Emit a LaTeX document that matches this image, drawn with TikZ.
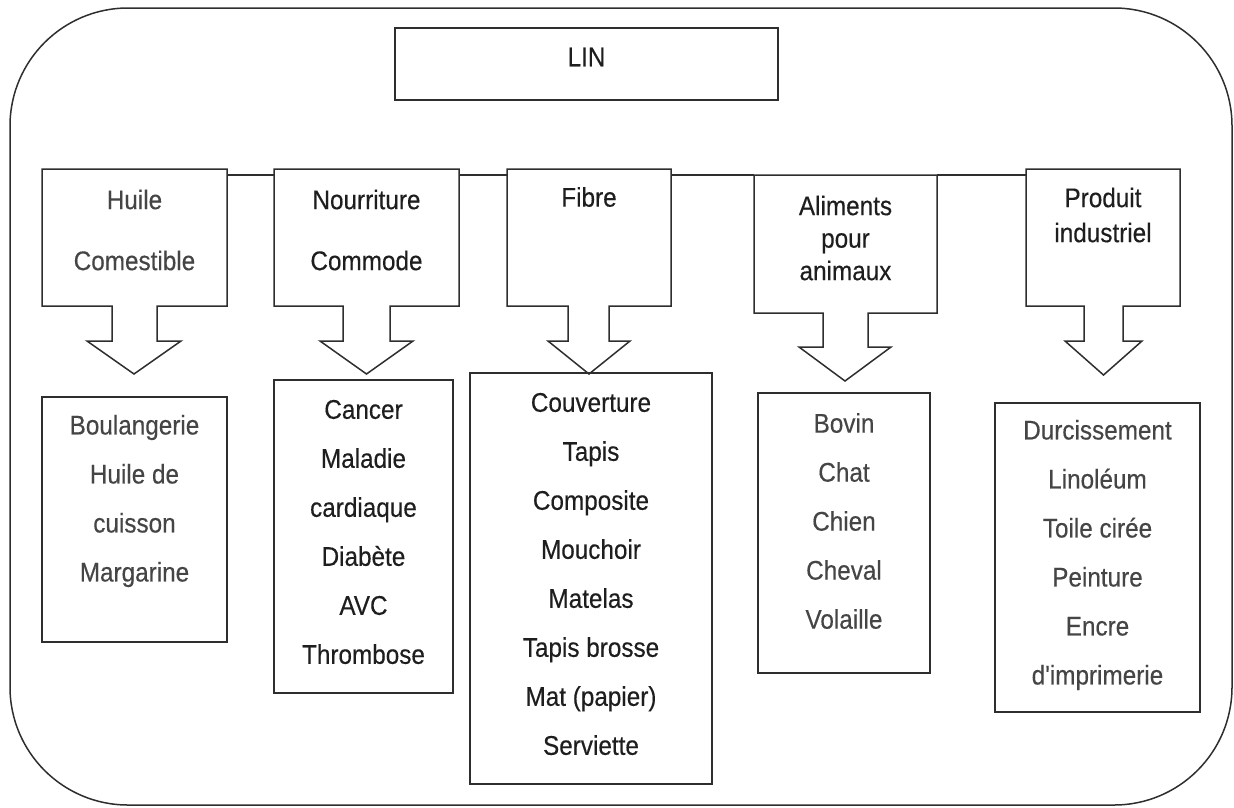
\documentclass[tikz,border=0pt]{standalone}
\usepackage{fontspec}
\setmainfont{Liberation Sans}
\newfontfamily\arialx{Liberation Sans}[FakeStretch=0.9, FakeBold=0.35]
\usetikzlibrary{calc}
\definecolor{linec}{HTML}{2E2E2E}
\definecolor{txtA}{HTML}{1E1E1E}
\definecolor{txtB}{HTML}{454545}
\tikzset{
  frame/.style={draw=linec, line width=1.5pt},
  lbl/.style={inner sep=0pt, align=center, text=txtA, font=\arialx\fontsize{27}{49}\selectfont},
  lblgray/.style={lbl, text=txtB},
}
% args: x1 x2 y1 y2 shaftL shaftR headL headR headTop (tip y in \tipy)
\newcommand{\callout}[9]{%
  \draw[frame, line join=miter] (#6,#4) -- (#2,#4) -- (#2,#3) -- (#1,#3) -- (#1,#4) -- (#5,#4)
    -- (#5,#9) -- (#7,#9) -- ({(#7+#8)/2},\tipy) -- (#8,#9) -- (#6,#9) -- cycle;}
\begin{document}
\begin{tikzpicture}[x=1pt,y=-1pt]
\useasboundingbox (0,0) rectangle (1234,807);
% outer rounded frame
\draw[frame, rounded corners=118pt] (10,8) rectangle (1232,805);

% LIN
\node[frame, minimum width=383pt, minimum height=72pt, inner sep=0pt] (lin) at (586.5,64) {};
\node[lbl] (lint) at (586.5,57) {LIN};

% top box corners (for connectors)
\coordinate (Hnw) at (42,169);   \coordinate (Hse) at (227,306);
\coordinate (Nnw) at (274,169);  \coordinate (Nse) at (459,306);
\coordinate (Fnw) at (507,169);  \coordinate (Fse) at (671,306);
\coordinate (Anw) at (754,175);  \coordinate (Ase) at (937,313);
\coordinate (Pnw) at (1026,169); \coordinate (Pse) at (1180,306);

% callout outlines: box + block arrow
\def\tipy{374}
\callout{42}{227}{169}{306}{112}{157}{87}{181}{341}
\callout{274}{459}{169}{306}{343}{390}{320}{413}{341}
\callout{507}{671}{169}{306}{568}{609}{548}{630}{341}
\def\tipy{381}
\callout{754}{937}{175}{313}{823}{868}{799}{891}{347}
\def\tipy{375}
\callout{1026}{1180}{169}{306}{1084}{1123}{1065}{1142}{341}

% top labels
\node[lblgray, font=\arialx\fontsize{27}{61}\selectfont] (Ht) at (134.5,230) {Huile\\Comestible};
\node[lbl, font=\arialx\fontsize{27}{61}\selectfont] (Nt) at (366.5,230) {Nourriture\\Commode};
\node[lbl] (Ft) at (589,197) {Fibre};
\node[lbl, font=\arialx\fontsize{27}{32.5}\selectfont] (At) at (845.5,238) {Aliments\\pour\\animaux};
\node[lbl, font=\arialx\fontsize{27}{35}\selectfont] (Pt) at (1103,215) {Produit\\industriel};

% connector line linking the categories
\draw[frame] (Hse |- 0,175) -- (Nnw |- 0,175);
\draw[frame] (Nse |- 0,175) -- (Fnw |- 0,175);
\draw[frame] (Fse |- 0,175) -- (Anw);
\draw[frame] (Ase |- 0,175) -- (Pnw |- 0,175);

% bottom boxes
\node[frame, minimum width=185pt, minimum height=245pt, inner sep=0pt] (B1) at (134.5,519.5) {};
\node[frame, minimum width=179pt, minimum height=313pt, inner sep=0pt] (B2) at (363.5,536.5) {};
\node[frame, minimum width=242pt, minimum height=411pt, inner sep=0pt] (B3) at (591,578.5) {};
\node[frame, minimum width=172pt, minimum height=280pt, inner sep=0pt] (B4) at (844,533) {};
\node[frame, minimum width=205pt, minimum height=309pt, inner sep=0pt] (B5) at (1097.5,557.5) {};

\node[lblgray] (B1t) at (134.5,501) {Boulangerie\\Huile de\\cuisson\\Margarine};
\node[lbl] (B2t) at (363.5,532) {Cancer\\Maladie\\cardiaque\\Diabète\\AVC\\Thrombose};
\node[lbl] (B3t) at (591,574) {Couverture\\Tapis\\Composite\\Mouchoir\\Matelas\\Tapis brosse\\Mat (papier)\\Serviette};
\node[lblgray] (B4t) at (844,521) {Bovin\\Chat\\Chien\\Cheval\\Volaille};
\node[lblgray] (B5t) at (1097.5,555) {Durcissement\\Linoléum\\Toile cirée\\Peinture\\Encre\\d'imprimerie};
\end{tikzpicture}
\end{document}
